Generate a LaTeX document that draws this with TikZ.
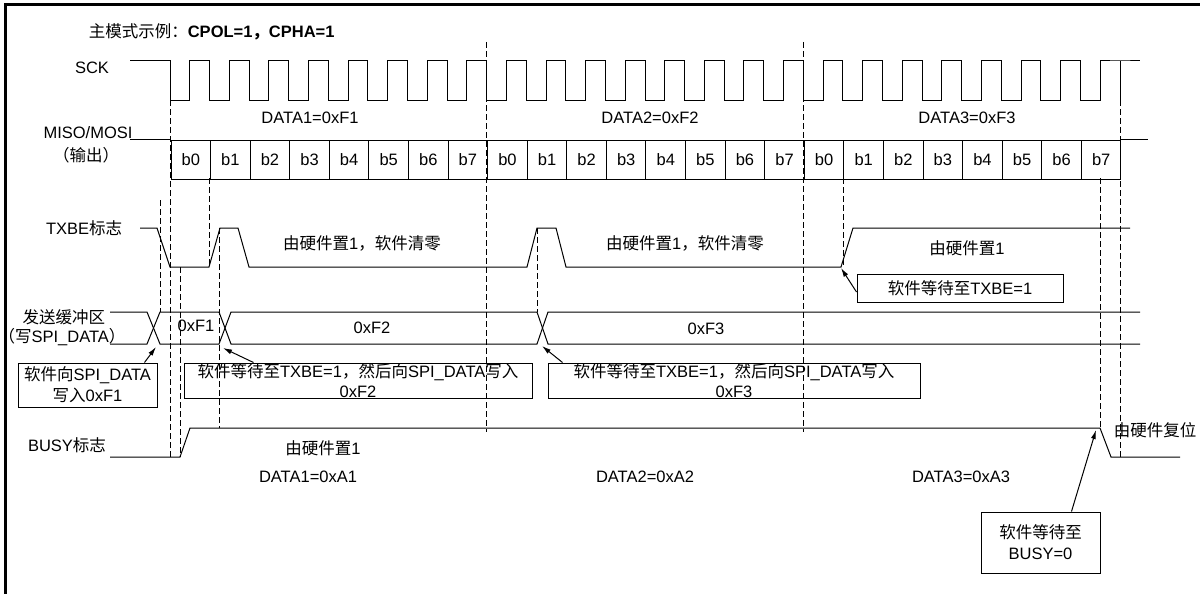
\documentclass[tikz,border=0pt]{standalone}
\usepackage{fontspec}
\setmainfont{Liberation Sans}
\newfontfamily\cjk{Noto Sans CJK SC}
\usetikzlibrary{matrix,positioning,arrows.meta}
\newcommand{\zh}[1]{{\cjk #1}}
\def\cw{39.583}
\tikzset{
bitrow/.style={
  matrix of nodes,
  inner sep=0pt,
  column sep=-1pt,
  nodes={draw,minimum width=\cw pt,minimum height=39pt,inner sep=0pt,anchor=center}
  },
guide/.style={dash pattern=on 6pt off 3pt,line width=0.8pt},
note/.style={draw,line width=1pt,inner sep=0pt,align=center}
}

\begin{document}
\begin{tikzpicture}[x=1pt,y=-1pt,>={Latex[length=9pt,width=5pt]},
  font=\fontsize{16.5}{20}\selectfont,line width=1pt]
\useasboundingbox (0,0) rectangle (1200,594);
\draw[line width=3pt] (5,594) -- (5,5) -- (1200,5);

\node[anchor=west] (title) at (85,32) {\zh{主模式示例：}\textbf{CPOL=1\zh{，}CPHA=1}};

% SCK
\coordinate (sck) at (130,61);
\node (scklbl) at (92,68) {SCK};
\draw (sck) -- (170,61) \foreach \i in {1,...,24}{ -- ++(0,39) -- ++(\cw/2,0) -- ++(0,-39) -- ++(\cw/2,0)} -- (1140,61);
\draw (1120,61) -- (1120,100);

% MISO/MOSI
\node (misolbl) at (88,133) {MISO/MOSI};
\node (outlbl) at (86,155) {\zh{（输出）}};
\matrix[bitrow,anchor=north west] at (170,139) (bits)
{
b0 & b1 & b2 & b3 & b4 & b5 & b6 & b7 & b0 & b1 & b2 & b3 & b4 & b5 & b6 & b7 & b0 & b1 & b2 & b3 & b4 & b5 & b6 & b7 \\
};
\draw (130,139) -- (170,139);
\draw (1120,139) -- (1148,139);

\node (d1) at (310,118) {DATA1=0xF1};
\node (d2) at (650,118) {DATA2=0xF2};
\node (d3) at (967,118) {DATA3=0xF3};

% dashed guides
\foreach \x/\ya/\yb in {170/100/457, 160/200/312, 180/267/457, 209.6/178/267,
  219/228/428, 486.7/42/432, 537/228/312, 803.3/42/432, 842.9/178/267,
  1100/178/428, 1120/100/457}
  \draw[guide] (\x,\ya) -- (\x,\yb);

% TXBE
\coordinate (txs) at (140,228);
\node[left=14pt of txs] (txlbl) {TXBE\zh{标志}};
\draw (txs) -- (157,228) -- (170,267) -- (209,267) -- (220,228) -- (238,228)
  -- (249,267) -- (527,267) -- (537,228) -- (556,228) -- (566,267)
  -- (841,267) -- (853,228) -- (1130,228);
\node (tx1) at (362,243) {\zh{由硬件置}1\zh{，软件清零}};
\node (tx2) at (685,243) {\zh{由硬件置}1\zh{，软件清零}};
\node (tx3) at (967,248) {\zh{由硬件置}1};
\coordinate (txrise) at (841,268);
\node[note,minimum width=206pt,minimum height=28pt] (waittx) at (960,288) {\zh{软件等待至}TXBE=1};
\draw[->] ([yshift=-4pt]waittx.west) -- (txrise);

% transmit buffer
\node (buflbl) at (64,317) {\zh{发送缓冲区}};
\node (buflbl2) at (62,337) {\zh{（写}SPI\_DATA\zh{）}};
\draw (110,312) -- (147,312) -- (160,344) -- (219,344) -- (231,312) -- (537,312) -- (548,344) -- (1140,344);
\draw (110,344) -- (147,344) -- (160,312) -- (219,312) -- (231,344) -- (537,344) -- (548,312) -- (1140,312);
\node (f1) at (196,326) {0xF1};
\node (f2) at (372,328) {0xF2};
\node (f3) at (706,329) {0xF3};
\coordinate (x1) at (156,347);
\coordinate (x2) at (223,348);
\coordinate (x3) at (542,346);
\node[note,minimum width=139pt,minimum height=44pt] (wr1) at (87.5,385)
  {\zh{软件向}SPI\_DATA\\[1pt]\zh{写入}0xF1};
\node[note,minimum width=348pt,minimum height=35pt] (wr2) at (358,380.5)
  {\zh{软件等待至}TXBE=1\zh{，然后向}SPI\_DATA\zh{写入}\\0xF2};
\node[note,minimum width=372pt,minimum height=35pt] (wr3) at (734,380.5)
  {\zh{软件等待至}TXBE=1\zh{，然后向}SPI\_DATA\zh{写入}\\0xF3};
\draw[->] ([xshift=-13pt]wr1.north east) -- (x1);
\draw[->] ([xshift=70pt]wr2.north west) -- (x2);
\draw[->] ([xshift=15pt]wr3.north west) -- (x3);

% BUSY
\node (busylbl) at (67,445) {BUSY\zh{标志}};
\draw (110,457) -- (180,457) -- (190,428) -- (1100,428) -- (1111,457) -- (1180,457);
\node (bs1) at (323,448) {\zh{由硬件置}1};
\node (bs2) at (1155,430) {\zh{由硬件复位}};
\node (a1) at (308,477) {DATA1=0xA1};
\node (a2) at (645,477) {DATA2=0xA2};
\node (a3) at (961,477) {DATA3=0xA3};
\coordinate (busyfall) at (1096,430);
\node[note,minimum width=119pt,minimum height=61pt] (waitbusy) at (1040.5,542.5)
  {\zh{软件等待至}\\[1pt]BUSY=0};
\draw[->] ([xshift=-29pt]waitbusy.north east) -- (busyfall);
\end{tikzpicture}
\end{document}
